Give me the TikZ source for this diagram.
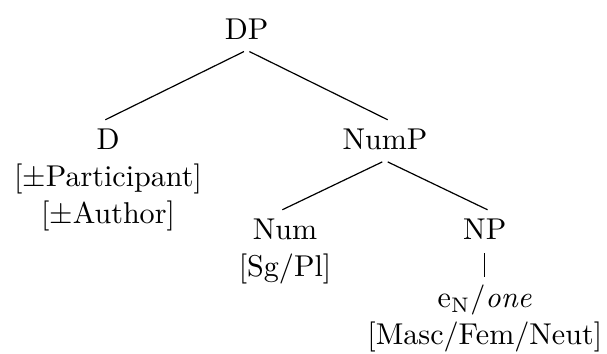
\documentclass[tikz,border=0pt]{standalone}
\usepackage{amsfonts,amsmath,amssymb}
\usepackage{tikz}

\begin{document}
\begin{tikzpicture}[shorten >=-1pt,shorten <=1pt,every node/.style={anchor=north,align=center,font=\fontsize{10pt}{12.3pt}\selectfont}]
\useasboundingbox (0,0) rectangle (7.087,4.122);
\node 		   (DP) at (2.880,4.024)   {DP};
  \node        (D) at (1.261,2.739)    {D\\{}[$\pm$Participant]\\{}[$\pm$Author]};
  \node        (NumP) at (4.495,2.739) {NumP};
  \node        (Num) at (3.328,1.688)  {Num\\{}[Sg/Pl]};
  \node        (NP) at (5.660,1.688)   {NP};
  \node        (N) at (5.660,0.918)    {e$_{\mathrm{N}}$/\textit{one}\\{}[Masc/Fem/Neut]};

  \path
		(DP.south) edge        node {} (D.north)
        (DP.south) edge        node {} (NumP.north)
        (NumP.south) edge      node {} (Num.north)
        (NumP.south) edge      node {} (NP.north)
        (NP.south) edge        node {} (N.north);
\end{tikzpicture}
\end{document}
